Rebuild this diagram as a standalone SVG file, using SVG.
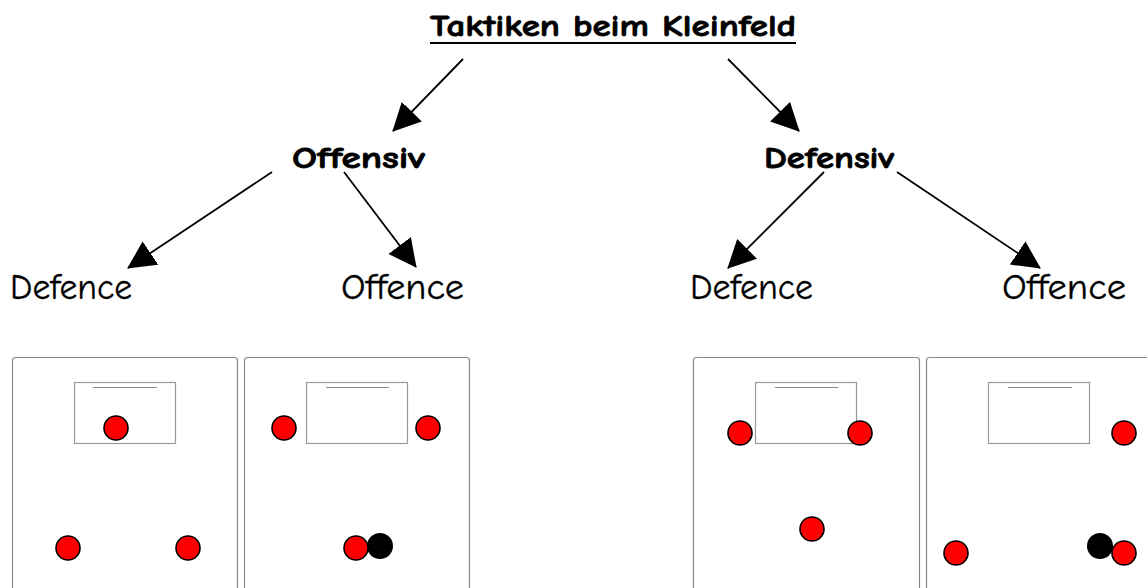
<svg xmlns="http://www.w3.org/2000/svg" width="1147" height="588" viewBox="0 0 1147 588">
<defs>
<style>
text{font-family:"Comic Sans MS","Comic Neue","DejaVu Sans",sans-serif;fill:#000}
.t{font-size:30px;font-weight:bold;stroke:#000;stroke-width:0.8}
.h{font-size:30px;font-weight:bold;stroke:#000;stroke-width:0.8}
.l{font-size:36px;stroke:#000;stroke-width:0.3}
.conn{stroke:#000;stroke-width:1.8;fill:none}
.panel{fill:#fff;stroke:#8a8a8a;stroke-width:1.2}
.goal{fill:#fff;stroke:#999;stroke-width:1.2}
.gl{stroke:#888;stroke-width:1.2}
.r{fill:#ff0000;stroke:#000;stroke-width:1.6}
.b{fill:#000}
</style>
<marker id="ah" markerUnits="userSpaceOnUse" markerWidth="28" markerHeight="28" viewBox="0 0 28 28" refX="27" refY="14" orient="auto">
<path d="M0,0 L28,14 L0,28 z" fill="#000"/>
</marker>
</defs>
<g id="title">
<text class="t" x="430" y="36" textLength="366" lengthAdjust="spacingAndGlyphs">Taktiken beim Kleinfeld</text>
<line x1="430" y1="43" x2="796" y2="43" stroke="#000" stroke-width="2"/>
</g>
<g id="offensiv"><text class="h" x="292" y="168" textLength="133" lengthAdjust="spacingAndGlyphs">Offensiv</text></g>
<g id="defensiv"><text class="h" x="764" y="168" textLength="130" lengthAdjust="spacingAndGlyphs">Defensiv</text></g>
<g id="off-defence"><text class="l" x="10" y="299" textLength="122" lengthAdjust="spacingAndGlyphs">Defence</text></g>
<g id="off-offence"><text class="l" x="341" y="299" textLength="123" lengthAdjust="spacingAndGlyphs">Offence</text></g>
<g id="def-defence"><text class="l" x="690" y="299" textLength="123" lengthAdjust="spacingAndGlyphs">Defence</text></g>
<g id="def-offence"><text class="l" x="1002" y="299" textLength="124" lengthAdjust="spacingAndGlyphs">Offence</text></g>
<g id="connectors">
<line class="conn" x1="463" y1="59" x2="393" y2="131" marker-end="url(#ah)"/>
<line class="conn" x1="728" y1="59" x2="799" y2="131" marker-end="url(#ah)"/>
<line class="conn" x1="272" y1="172" x2="128" y2="268" marker-end="url(#ah)"/>
<line class="conn" x1="344" y1="172" x2="416" y2="267" marker-end="url(#ah)"/>
<line class="conn" x1="824" y1="172" x2="728" y2="268" marker-end="url(#ah)"/>
<line class="conn" x1="897" y1="172" x2="1040" y2="268" marker-end="url(#ah)"/>
</g>
<g id="panel1">
<rect class="panel" x="12.5" y="357.5" width="225" height="260" rx="3"/>
<rect class="goal" x="74.5" y="382.5" width="101" height="61"/>
<line class="gl" x1="93" y1="387.5" x2="157" y2="387.5"/>
<circle class="r" cx="116" cy="428" r="12"/>
<circle class="r" cx="68" cy="548" r="12"/>
<circle class="r" cx="188" cy="548" r="12"/>
</g>
<g id="panel2">
<rect class="panel" x="244.5" y="357.5" width="225" height="260" rx="3"/>
<rect class="goal" x="306.5" y="382.5" width="101" height="61"/>
<line class="gl" x1="326" y1="387.5" x2="389" y2="387.5"/>
<circle class="r" cx="284" cy="428" r="12"/>
<circle class="r" cx="428" cy="428" r="12"/>
<circle class="b" cx="380" cy="546" r="13"/>
<circle class="r" cx="356" cy="548" r="12"/>
</g>
<g id="panel3">
<rect class="panel" x="693.5" y="357.5" width="226" height="260" rx="3"/>
<rect class="goal" x="755.5" y="382.5" width="101" height="61"/>
<line class="gl" x1="775" y1="387.5" x2="838" y2="387.5"/>
<circle class="r" cx="740" cy="433" r="12"/>
<circle class="r" cx="860" cy="433" r="12"/>
<circle class="r" cx="812" cy="529" r="12"/>
</g>
<g id="panel4">
<rect class="panel" x="926.5" y="357.5" width="240" height="260" rx="3"/>
<rect class="goal" x="988.5" y="382.5" width="101" height="61"/>
<line class="gl" x1="1008" y1="387.5" x2="1072" y2="387.5"/>
<circle class="r" cx="1124" cy="433" r="12"/>
<circle class="r" cx="956" cy="553" r="12"/>
<circle class="b" cx="1100" cy="546" r="13"/>
<circle class="r" cx="1124" cy="553" r="12"/>
</g>
</svg>
